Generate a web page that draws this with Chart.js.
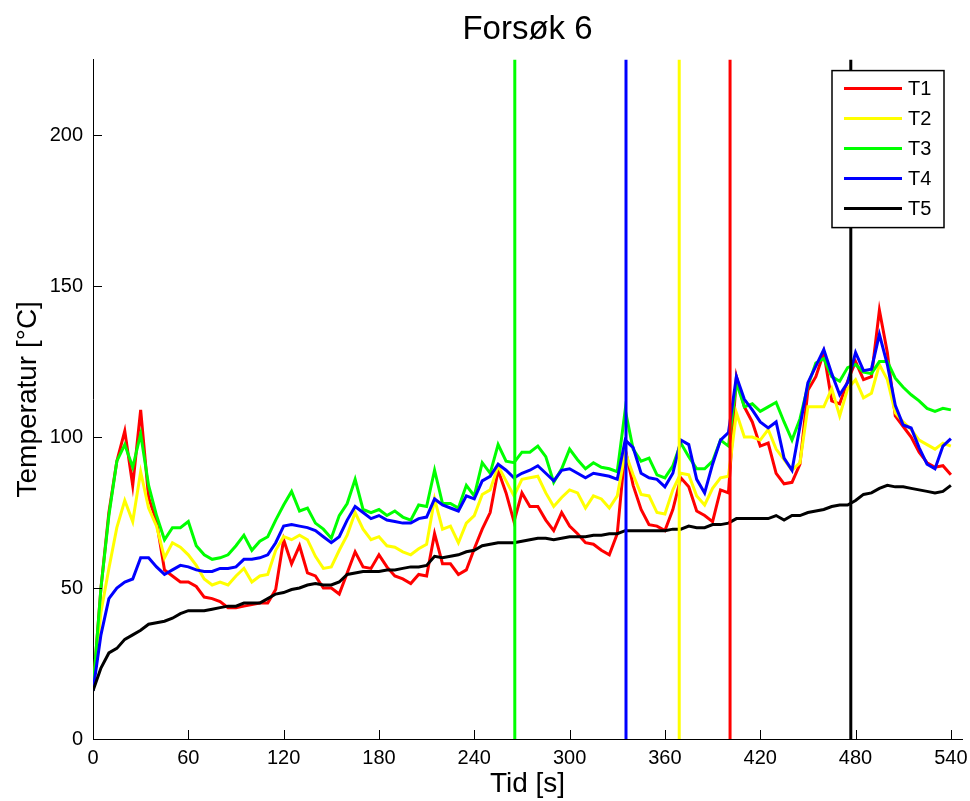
<!DOCTYPE html>
<html>
<head>
<meta charset="utf-8">
<title>Forsøk 6</title>
<script src="https://cdn.jsdelivr.net/npm/chart.js@4.4.0/dist/chart.umd.min.js"></script>
<style>
  html, body { margin: 0; padding: 0; background: #fff; }
  #wrap { width: 970px; height: 801px; }
</style>
</head>
<body>
<div id="wrap"><canvas id="chart" width="970" height="801"></canvas></div>
<script>
// sample times [s], one every 5 s
const times = [
  0, 5, 10, 15, 20, 25, 30, 35, 40, 45, 50, 55,
  60, 65, 70, 75, 80, 85, 90, 95, 100, 105, 110, 115,
  120, 125, 130, 135, 140, 145, 150, 155, 160, 165, 170, 175,
  180, 185, 190, 195, 200, 205, 210, 215, 220, 225, 230, 235,
  240, 245, 250, 255, 260, 265, 270, 275, 280, 285, 290, 295,
  300, 305, 310, 315, 320, 325, 330, 335, 340, 345, 350, 355,
  360, 365, 370, 375, 380, 385, 390, 395, 400, 405, 410, 415,
  420, 425, 430, 435, 440, 445, 450, 455, 460, 465, 470, 475,
  480, 485, 490, 495, 500, 505, 510, 515, 520, 525, 530, 535,
  540
];

// temperatures [°C]
const t1 = [
  16, 50, 75, 92, 102, 84, 109, 80, 72, 56, 54, 52,
  52, 50.5, 47, 46.5, 45.5, 43.5, 43.5, 44, 44.5, 45, 45, 49.5,
  66, 58, 64, 55, 54, 50, 50, 48, 55, 62, 57, 56.5,
  61, 57, 54, 53, 51.5, 54.5, 54, 68, 58, 58, 54.5, 56,
  63, 69.5, 75, 89, 81.5, 72, 81.5, 77, 77, 72.5, 69, 75,
  70.5, 68, 65, 64.5, 62.5, 61, 68, 96, 84, 76, 71, 70.5,
  69, 76, 86.5, 83.5, 75.5, 74, 72, 82.5, 81.5, 120, 110, 105,
  97, 98, 88, 84.5, 85, 91, 115.5, 120, 128, 112, 111, 118.5,
  125, 119, 120, 142, 128, 107, 103.5, 100, 95, 91.5, 90, 90.5,
  87.5
];
const t2 = [
  16, 42, 56.5, 70, 79, 72, 88.5, 76.5, 70.5, 60, 65, 63.5,
  61, 57.5, 53, 51, 52, 51, 54, 56.5, 52, 54, 54.5, 62.5,
  67, 66, 67.5, 66, 60.5, 56.5, 57, 62.5, 67.5, 75, 69.5, 66,
  67, 64, 63.5, 62, 61, 63, 64.5, 79.5, 69.5, 70.5, 65, 71.5,
  74, 81, 82.5, 90.5, 85.5, 80.5, 86, 86.5, 87, 81.5, 77, 80,
  82.5, 81.5, 76.5, 80.5, 79.5, 76.5, 80.5, 95, 87.5, 81, 80.5, 75,
  74.5, 82.5, 88, 87.5, 80.5, 77.5, 83, 86.5, 87, 108, 100, 100,
  99, 102.5, 96, 92.5, 89, 91.5, 110, 110, 110, 116, 107, 116,
  119, 113, 114.5, 124, 119, 108, 105, 102.5, 99, 97.5, 96, 98,
  97
];
const t3 = [
  16, 50, 74, 92, 97.5, 90, 101, 84, 74, 66, 70, 70,
  72, 64, 61, 59.5, 60, 61, 64, 67.5, 62.5, 65.5, 67, 72.5,
  77.5, 82, 75.5, 76.5, 71.5, 69.5, 66.5, 74, 78, 86, 76, 75,
  76, 74, 75.5, 73.5, 72.5, 77.5, 77, 89, 78, 78, 76.5, 84,
  80.5, 91.5, 88, 97.5, 92, 91.5, 95, 95, 97, 93.5, 85, 89.5,
  96, 92.5, 89.5, 91.5, 90, 89.5, 88.5, 109, 96, 92, 93, 87.5,
  86.5, 90.5, 98, 93.5, 89.5, 89.5, 92, 99, 97, 118, 110, 111,
  108.5, 110, 111.5, 105, 99, 106, 117, 124.5, 126, 120, 118.5, 123,
  124, 121.5, 121, 125, 125, 119.5, 116.5, 114, 112, 109.5, 108.5, 109.5,
  109
];
const t4 = [
  16, 34.5, 46.5, 50, 52, 53, 60, 60, 57, 54.5, 56, 57.5,
  57, 56, 55.5, 55.5, 56.5, 56.5, 57, 59.5, 59.5, 60, 61, 65,
  70.5, 71, 70.5, 70, 69, 67, 65, 67, 72.5, 77, 75, 73,
  74, 72.5, 72, 71.5, 71.5, 73, 73.5, 79.5, 77.5, 76.5, 75.5, 80.5,
  79.5, 85.5, 87, 91, 89, 86.5, 88, 89, 90.5, 88, 85.5, 89,
  89.5, 88, 86.5, 88, 87.5, 87, 86, 99, 96.5, 88, 86.5, 86,
  83.5, 88, 99, 97.5, 86, 81.5, 91, 99, 101.5, 120, 112.5, 109,
  105, 103, 105, 93, 89, 103.5, 118, 123.5, 129, 121, 114, 118,
  128, 122, 122.5, 134, 124, 110.5, 104, 103, 96.5, 91, 89.5, 97,
  99.5
];
const t5 = [
  16, 23.5, 28.5, 30, 33, 34.5, 36, 38, 38.5, 39, 40, 41.5,
  42.5, 42.5, 42.5, 43, 43.5, 44, 44, 45, 45, 45, 46.5, 48,
  48.5, 49.5, 50, 51, 51.5, 51, 51, 52, 54.5, 55, 55.5, 55.5,
  55.5, 56, 56, 56.5, 57, 57, 57.5, 60.5, 60, 60.5, 61, 62,
  62.5, 64, 64.5, 65, 65, 65, 65.5, 66, 66.5, 66.5, 66, 66.5,
  67, 67, 67, 67.5, 67.5, 68, 68, 69, 69, 69, 69, 69,
  69, 69.5, 69.5, 70.5, 70, 70, 71, 71, 71.5, 73, 73, 73,
  73, 73, 74, 72.5, 74, 74, 75, 75.5, 76, 77, 77.5, 77.5,
  79, 81, 81.5, 83, 84, 83.5, 83.5, 83, 82.5, 82, 81.5, 82,
  84
];

const seriesNames = ['T1', 'T2', 'T3', 'T4', 'T5'];
const seriesColors = ['#ff0000', '#ffff00', '#00ff00', '#0000ff', '#000000'];
const seriesValues = [t1, t2, t3, t4, t5];

// vertical marker lines [s]
const eventTimes = [265.5, 335.5, 369, 401, 477];
const eventColors = ['#00ff00', '#0000ff', '#ffff00', '#ff0000', '#000000'];

const xTicks = [0, 60, 120, 180, 240, 300, 360, 420, 480, 540];
const yTicks = [0, 50, 100, 150, 200];
const xMax = 547;
const yMax = 225;

const FONT = '"Liberation Sans", Arial, Helvetica, sans-serif';

// Build datasets: measured series first, marker lines on top
const datasets = seriesNames.map((name, i) => ({
  label: name,
  data: times.map((t, k) => ({ x: t, y: seriesValues[i][k] })),
  borderColor: seriesColors[i],
  borderWidth: 3,
  pointRadius: 0,
  tension: 0,
  order: 10 - i,
}));

eventTimes.forEach((t, i) => {
  datasets.push({
    label: 'event' + i,
    data: [{ x: t, y: 0 }, { x: t, y: yMax }],
    borderColor: eventColors[i],
    borderWidth: 3,
    pointRadius: 0,
    order: 0,
  });
});

// MATLAB style tick marks pointing into the plot
const inwardTicks = {
  id: 'inwardTicks',
  afterDatasetsDraw(chart) {
    const { ctx, chartArea, scales: { x, y } } = chart;
    ctx.save();
    ctx.strokeStyle = '#000';
    ctx.lineWidth = 1;
    ctx.beginPath();
    xTicks.forEach(v => {
      const px = Math.round(x.getPixelForValue(v)) + 0.5;
      ctx.moveTo(px, chartArea.bottom);
      ctx.lineTo(px, chartArea.bottom - 9);
    });
    yTicks.forEach(v => {
      const py = Math.round(y.getPixelForValue(v)) + 0.5;
      ctx.moveTo(chartArea.left, py);
      ctx.lineTo(chartArea.left + 9, py);
    });
    ctx.stroke();
    ctx.restore();
  }
};

// boxed legend inside the plot, top right
const boxLegend = {
  id: 'boxLegend',
  afterDatasetsDraw(chart) {
    const { ctx, chartArea } = chart;
    const w = 112, h = 157;
    const left = chartArea.right - 18 - w;
    const top = chartArea.top + 11;
    ctx.save();
    ctx.fillStyle = '#fff';
    ctx.fillRect(left, top, w, h);
    ctx.strokeStyle = '#000';
    ctx.lineWidth = 1.5;
    ctx.strokeRect(left, top, w, h);
    ctx.font = '20px ' + FONT;
    ctx.textBaseline = 'middle';
    seriesNames.forEach((name, i) => {
      const yy = top + 18 + i * 30;
      ctx.strokeStyle = seriesColors[i];
      ctx.lineWidth = 3;
      ctx.beginPath();
      ctx.moveTo(left + 12, yy);
      ctx.lineTo(left + 70, yy);
      ctx.stroke();
      ctx.fillStyle = '#000';
      ctx.fillText(name, left + 76, yy + 1);
    });
    ctx.restore();
  }
};

const ctx = document.getElementById('chart').getContext('2d');
const chart = new Chart(ctx, {
  type: 'line',
  data: { datasets },
  options: {
    responsive: false,
    animation: false,
    events: [],
    layout: { padding: { left: 0, right: 8, top: 0, bottom: 0 } },
    plugins: {
      legend: { display: false },
      tooltip: { enabled: false },
      title: {
        display: true,
        fullSize: false,
        text: 'Forsøk 6',
        color: '#000',
        font: { family: FONT, size: 33, weight: 'normal' },
        padding: { top: 10, bottom: 10 },
      },
    },
    scales: {
      x: {
        type: 'linear',
        min: 0,
        max: xMax,
        afterBuildTicks: (scale) => { scale.ticks = xTicks.map(v => ({ value: v })); },
        afterFit: (scale) => {
          scale.height = 62;
          scale.paddingLeft = 0;
          scale.paddingRight = 0;
        },
        grid: { display: true, drawOnChartArea: false, drawTicks: false },
        border: { display: true, color: '#000', width: 1 },
        ticks: {
          color: '#000',
          padding: 7,
          maxRotation: 0,
          autoSkip: false,
          font: { family: FONT, size: 20 },
        },
        title: {
          display: true,
          text: 'Tid [s]',
          color: '#000',
          font: { family: FONT, size: 28 },
          padding: { top: 0, bottom: 0 },
        },
      },
      y: {
        type: 'linear',
        min: 0,
        max: yMax,
        afterBuildTicks: (scale) => { scale.ticks = yTicks.map(v => ({ value: v })); },
        afterFit: (scale) => {
          scale.width = 93;
          scale.paddingTop = 0;
          scale.paddingBottom = 0;
        },
        grid: { display: true, drawOnChartArea: false, drawTicks: false },
        border: { display: true, color: '#000', width: 1 },
        ticks: {
          color: '#000',
          padding: 10,
          autoSkip: false,
          font: { family: FONT, size: 20 },
        },
        title: {
          display: true,
          text: 'Temperatur [°C]',
          color: '#000',
          font: { family: FONT, size: 28 },
          padding: { top: 11, bottom: 0 },
        },
      },
    },
  },
  plugins: [inwardTicks, boxLegend],
});
</script>
</body>
</html>
